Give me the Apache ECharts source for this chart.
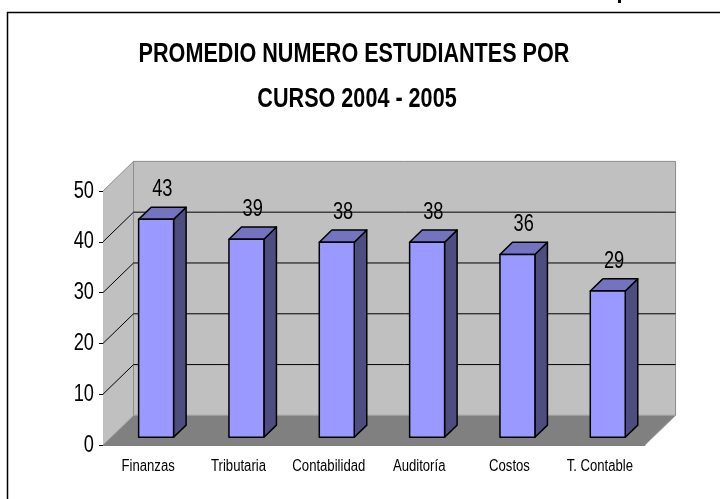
<!DOCTYPE html>
<html>
<head>
<meta charset="utf-8">
<script src="https://cdn.jsdelivr.net/npm/echarts@6/dist/echarts.min.js"></script>
<style>
  html, body { margin: 0; padding: 0; background: #fff; }
  #main { width: 720px; height: 499px; }
</style>
</head>
<body>
<div id="main"></div>
<script>
// datos
var categories = ['Finanzas', 'Tributaria', 'Contabilidad', 'Auditoría', 'Costos', 'T. Contable'];
var values = [42.9, 39.0, 38.4, 38.4, 36.0, 28.8];
var yTicks = [0, 10, 20, 30, 40, 50];
var gridValues = [10, 20, 30, 40];
var titleLines = ['PROMEDIO NUMERO ESTUDIANTES POR', 'CURSO 2004 - 2005'];

// no hay Arial Narrow: Liberation Sans comprimida horizontalmente
var FONT = "'Liberation Sans', Arial, sans-serif";
var NARROW = 0.8;

// profundidad del 3D, relativa al ancho de cada categoria
var DEPTH = 0.338;
var BAR_FRONT = 0.26, BAR_BACK = 0.67, BAR_W = 0.387;

function depthVec(api) {
  var band = api.size([1, 0])[0];
  var dx = band * DEPTH;
  return [dx, -dx * 0.97];
}

function narrowText(x, y, text, size, align, scale, weight) {
  return {
    type: 'text', x: x, y: y, scaleX: scale || NARROW,
    style: { x: 0, y: 0, text: text, fill: '#000', align: align, verticalAlign: 'middle',
      font: (weight || 'normal') + ' ' + size + 'px ' + FONT }
  };
}

// paredes, piso y etiquetas de los ejes
function renderWalls(params, api) {
  var cs = params.coordSys;
  var d = depthVec(api);
  var L = cs.x, R = cs.x + cs.width, T = cs.y, B = cs.y + cs.height;
  var kids = [];
  kids.push({ type: 'polygon', shape: { points: [[L, B], [L, T], [L + d[0], T + d[1]], [L + d[0], B + d[1]]] },
    style: { fill: '#c0c0c0', stroke: null } });
  kids.push({ type: 'rect', shape: { x: L + d[0], y: T + d[1], width: R - L, height: B - T },
    style: { fill: '#c0c0c0', stroke: '#8c8c8c', lineWidth: 1 } });
  kids.push({ type: 'polygon', shape: { points: [[L, B], [R, B], [R + d[0], B + d[1]], [L + d[0], B + d[1]]] },
    style: { fill: '#808080', stroke: null } });
  gridValues.forEach(function (v) {
    var p = api.coord([0, v]);
    kids.push({ type: 'line', shape: { x1: L + d[0], y1: p[1] + d[1], x2: R + d[0], y2: p[1] + d[1] },
      style: { stroke: '#000', lineWidth: 1 } });
    kids.push({ type: 'line', shape: { x1: L, y1: p[1], x2: L + d[0], y2: p[1] + d[1] },
      style: { stroke: '#000', lineWidth: 1 } });
  });
  kids.push({ type: 'line', shape: { x1: L, y1: T, x2: L + d[0], y2: T + d[1] }, style: { stroke: '#8c8c8c', lineWidth: 1 } });
  kids.push({ type: 'line', shape: { x1: L, y1: B, x2: L + d[0], y2: B + d[1] }, style: { stroke: '#a0a0a0', lineWidth: 1 } });
  kids.push({ type: 'line', shape: { x1: L + d[0], y1: B + d[1], x2: R + d[0], y2: B + d[1] }, style: { stroke: '#a0a0a0', lineWidth: 1 } });
  kids.push({ type: 'line', shape: { x1: R, y1: B, x2: R + d[0], y2: B + d[1] }, style: { stroke: '#a0a0a0', lineWidth: 1 } });

  yTicks.forEach(function (v) {
    var p = api.coord([0, v]);
    kids.push(narrowText(L - 9, p[1], String(v), 24, 'right', 0.76));
  });
  categories.forEach(function (c, i) {
    var p = api.coord([i, 0]);
    kids.push(narrowText(p[0], B + 22, c, 16, 'center', 0.82));
  });
  return { type: 'group', children: kids };
}

// barras 3D
function renderBar(params, api) {
  var i = api.value(0), v = api.value(1);
  var band = api.size([1, 0])[0];
  var d = depthVec(api);
  var base = api.coord([i, 0]);
  var top = api.coord([i, v]);
  var w = band * BAR_W;
  var x0 = base[0] + BAR_FRONT * d[0] - w / 2, x1 = x0 + w;
  var yb = base[1] + BAR_FRONT * d[1], yt = top[1] + BAR_FRONT * d[1];
  var ddx = (BAR_BACK - BAR_FRONT) * d[0], ddy = (BAR_BACK - BAR_FRONT) * d[1];
  var edge = { stroke: '#000', lineWidth: 1.5, lineJoin: 'round' };
  return {
    type: 'group',
    children: [
      { type: 'polygon', shape: { points: [[x1, yt], [x1 + ddx, yt + ddy], [x1 + ddx, yb + ddy], [x1, yb]] },
        style: Object.assign({ fill: '#4d4d80' }, edge) },
      { type: 'polygon', shape: { points: [[x0, yt], [x1, yt], [x1 + ddx, yt + ddy], [x0 + ddx, yt + ddy]] },
        style: Object.assign({ fill: '#7373bf' }, edge) },
      { type: 'rect', shape: { x: x0, y: yt, width: w, height: yb - yt },
        style: Object.assign({ fill: '#9999ff' }, edge) },
      narrowText(x0 + (w + ddx) / 2, yt - 30, String(Math.round(v)), 24, 'center', 0.76)
    ]
  };
}

var chart = echarts.init(document.getElementById('main'), null, { renderer: 'canvas' });

var option = {
  backgroundColor: '#ffffff',
  animation: false,
  grid: { left: 103, right: 75, top: 191, bottom: 54 },
  xAxis: {
    type: 'category',
    data: categories,
    axisLine: { lineStyle: { color: '#808080', width: 1 } },
    axisTick: { length: 7, lineStyle: { color: '#808080' } },
    axisLabel: { show: false }
  },
  yAxis: {
    type: 'value',
    min: 0, max: 50, interval: 10,
    axisLine: { show: true, lineStyle: { color: '#000', width: 1 } },
    axisTick: { show: true, length: 4, lineStyle: { color: '#000' } },
    axisLabel: { show: false },
    splitLine: { show: false }
  },
  graphic: [
    { type: 'rect', shape: { x: 7.5, y: 12.5, width: 760, height: 600 },
      style: { fill: null, stroke: '#000', lineWidth: 1.5 }, z: 0 },
    { type: 'rect', shape: { x: 618, y: 0, width: 3, height: 3 }, style: { fill: '#000' } },
    { type: 'text', x: 354, y: 55, scaleX: 0.8,
      style: { x: 0, y: 0, text: titleLines[0], fill: '#000', align: 'center', verticalAlign: 'middle',
        font: 'bold 27px ' + FONT } },
    { type: 'text', x: 357, y: 100, scaleX: 0.8,
      style: { x: 0, y: 0, text: titleLines[1], fill: '#000', align: 'center', verticalAlign: 'middle',
        font: 'bold 27px ' + FONT } }
  ],
  series: [
    { type: 'custom', renderItem: renderWalls, data: [[0, 0]], clip: false, z: 1, silent: true },
    { type: 'custom', renderItem: renderBar, clip: false, z: 3,
      data: values.map(function (v, i) { return [i, v]; }) }
  ]
};

chart.setOption(option);
</script>
</body>
</html>
